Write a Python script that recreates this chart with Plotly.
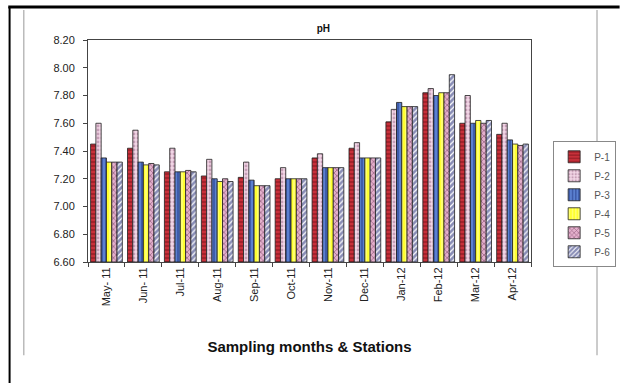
import plotly.graph_objects as go

months = ["May- 11", "Jun- 11", "Jul-11", "Aug-11", "Sep-11", "Oct-11",
          "Nov-11", "Dec-11", "Jan-12", "Feb-12", "Mar-12", "Apr-12"]

p1 = [7.45, 7.42, 7.25, 7.22, 7.21, 7.20, 7.35, 7.42, 7.61, 7.82, 7.60, 7.52]
p2 = [7.60, 7.55, 7.42, 7.34, 7.32, 7.28, 7.38, 7.46, 7.70, 7.85, 7.80, 7.60]
p3 = [7.35, 7.32, 7.25, 7.20, 7.19, 7.20, 7.28, 7.35, 7.75, 7.80, 7.60, 7.48]
p4 = [7.32, 7.30, 7.25, 7.18, 7.15, 7.20, 7.28, 7.35, 7.72, 7.82, 7.62, 7.45]
p5 = [7.32, 7.31, 7.26, 7.20, 7.15, 7.20, 7.28, 7.35, 7.72, 7.82, 7.60, 7.44]
p6 = [7.32, 7.30, 7.25, 7.18, 7.15, 7.20, 7.28, 7.35, 7.72, 7.95, 7.62, 7.45]

y_ticks = [6.60, 6.80, 7.00, 7.20, 7.40, 7.60, 7.80, 8.00, 8.20]

stations = [
    ("P-1", p1, "#c8303a", "#6a0c14", "-", 0.4),
    ("P-2", p2, "#f2d6e6", "#9a6888", ".", 0.4),
    ("P-3", p3, "#5b80d0", "#142470", "|", 0.4),
    ("P-4", p4, "#ffff30", "#ffffff", "|", 0.3),
    ("P-5", p5, "#e4b0cc", "#50183f", "x", 0.35),
    ("P-6", p6, "#ffffff", "#141c6e", "/", 0.7),
]

FONT = "Liberation Sans, Arial, sans-serif"

fig = go.Figure()
for name, vals, bg, fg, shape, sol in stations:
    fig.add_trace(go.Bar(
        name=name, x=months, y=[v - 6.60 for v in vals], base=6.60,
        marker=dict(
            color=bg,
            line=dict(color="#202020", width=0.8),
            pattern=dict(shape=shape, bgcolor=bg, fgcolor=fg,
                         size=4, solidity=sol, fillmode="overlay"),
        ),
        hovertext=[f"{v:.2f}" for v in vals],
    ))

fig.update_layout(
    width=628, height=383,
    margin=dict(l=88, r=77, t=40, b=121),
    paper_bgcolor="white", plot_bgcolor="white",
    barmode="group", bargap=0.14, bargroupgap=0.0,
    font=dict(family=FONT, size=10, color="#222"),
    title=dict(text="<b>pH</b>", x=0.515, xanchor="center", y=0.925,
               yanchor="middle", font=dict(size=10, color="#111")),
    showlegend=True,
    legend=dict(x=1.05, y=0.26, xanchor="left", yanchor="middle",
                bordercolor="#888", borderwidth=1, bgcolor="white",
                font=dict(size=10, color="#555"), itemwidth=30,
                tracegroupgap=0, traceorder="normal"),
)

fig.update_xaxes(
    type="category", tickangle=-90, showline=True, linecolor="#444",
    linewidth=1, mirror=True, ticks="outside", ticklen=4, tickcolor="#444",
    tickson="boundaries",
    tickfont=dict(size=11, color="#222"), showgrid=False,
    title=dict(text="<b>Sampling months & Stations</b>",
               font=dict(size=15, color="#111"), standoff=36),
)
fig.update_yaxes(
    range=[6.60, 8.20], tickvals=y_ticks,
    ticktext=[f"{t:.2f}" for t in y_ticks],
    showline=True, linecolor="#444", linewidth=1, mirror=True,
    ticks="outside", ticklen=4, tickcolor="#444", ticklabelstandoff=6,
    tickfont=dict(size=11, color="#222"), showgrid=False, zeroline=False,
)

# outer frame: heavy black top and left edges, light grey inner rules
fig.add_shape(type="line", xref="paper", yref="paper",
              x0=-0.18, x1=1.2, y0=1.149, y1=1.149,
              line=dict(color="black", width=3))
fig.add_shape(type="line", xref="paper", yref="paper",
              x0=-0.177, x1=-0.177, y0=-0.56, y1=1.149,
              line=dict(color="black", width=2))
fig.add_shape(type="line", xref="paper", yref="paper",
              x0=-0.145, x1=-0.145, y0=-0.42, y1=1.135,
              line=dict(color="#bbbbbb", width=1.5))
fig.add_shape(type="line", xref="paper", yref="paper",
              x0=1.149, x1=1.149, y0=-0.42, y1=1.135,
              line=dict(color="#bbbbbb", width=1.5))

fig.write_html("out.html")
